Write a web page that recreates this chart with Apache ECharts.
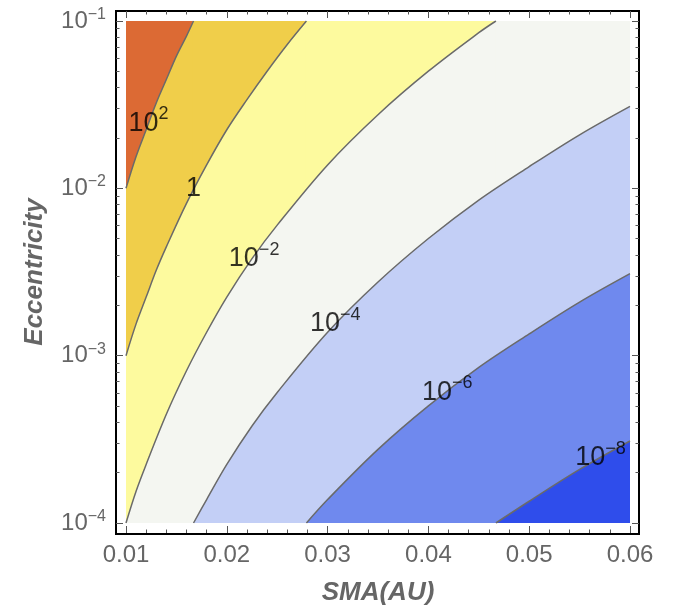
<!DOCTYPE html>
<html><head><meta charset="utf-8">
<script src="https://cdn.jsdelivr.net/npm/echarts@6/dist/echarts.min.js"></script>
<style>html,body{margin:0;padding:0;background:#fff}#c{width:681px;height:611px}</style>
</head><body><div id="c"></div>
<script>
// Axis ranges (x: SMA in AU, y: log10 of eccentricity)
const xRange = [0.01, 0.06];
const yRange = [-4, -1];
// Contour levels (exponent of 10) and contour lines as [SMA, log10(e)]
const levels = [2, 0, -2, -4, -6, -8];
const contour_p2 = [[0.0100,-2.00],[0.0110,-1.81],[0.0120,-1.65],[0.0130,-1.49],[0.0140,-1.35],[0.0150,-1.21],[0.0160,-1.09],[0.0167,-1.00]];
const contour_0 = [[0.0100,-3.00],[0.0110,-2.81],[0.0120,-2.65],[0.0130,-2.49],[0.0140,-2.35],[0.0160,-2.09],[0.0180,-1.86],[0.0200,-1.65],[0.0220,-1.47],[0.0240,-1.30],[0.0260,-1.14],[0.0279,-1.00]];
const contour_m2 = [[0.0100,-4.00],[0.0110,-3.81],[0.0120,-3.65],[0.0140,-3.35],[0.0160,-3.09],[0.0180,-2.86],[0.0200,-2.65],[0.0225,-2.42],[0.0250,-2.22],[0.0300,-1.86],[0.0350,-1.56],[0.0400,-1.30],[0.0450,-1.07],[0.0467,-1.00]];
const contour_m4 = [[0.0167,-4.00],[0.0180,-3.86],[0.0200,-3.65],[0.0225,-3.42],[0.0250,-3.22],[0.0300,-2.86],[0.0350,-2.56],[0.0400,-2.30],[0.0450,-2.07],[0.0500,-1.87],[0.0550,-1.68],[0.0600,-1.51]];
const contour_m6 = [[0.0279,-4.00],[0.0300,-3.86],[0.0350,-3.56],[0.0400,-3.30],[0.0450,-3.07],[0.0500,-2.87],[0.0550,-2.68],[0.0600,-2.51]];
const contour_m8 = [[0.0467,-4.00],[0.0500,-3.87],[0.0550,-3.68],[0.0600,-3.51]];
const contours = [contour_p2, contour_0, contour_m2, contour_m4, contour_m6, contour_m8];
// Contour label anchor points [SMA, log10(e)]
const labelPos = [[0.01223,-1.61],[0.0167,-2.00],[0.02271,-2.42],[0.03076,-2.81],[0.04188,-3.22],[0.05707,-3.61]];
// Band colours: above highest contour, then below each contour
const topBandColor = '#DC6A34';
const bandColors = ['#F0CE4A', '#FDFA9E', '#F4F6F1', '#C3CFF6', '#6F89EE', '#2F4DEB'];

const FONT = "'Liberation Sans', Arial, sans-serif";
const GRAY = '#666666';
const TICK = '#555555';
const SMOOTH = 0.35;

// log minor tick positions
const yMinor = [];
for (let n = -4; n < -1; n++) for (let k = 2; k <= 9; k++) yMinor.push(n + Math.log10(k));

function expLabel(v) {
  const n = Math.round(v);
  return '{b|10}{s|' + (n < 0 ? '\u2212' : '') + Math.abs(n) + '}';
}

const series = [];
contours.forEach((c, i) => {
  const z = 1 + i * 0.01;
  // region below the contour line
  series.push({
    type: 'line', xAxisIndex: 0, yAxisIndex: 0, data: c, showSymbol: false,
    smooth: SMOOTH, lineStyle: {width: 0, opacity: 0},
    areaStyle: {color: bandColors[i], opacity: 1, origin: 'start'}, z: z, silent: true
  });
  // columns right of where the contour leaves through the top edge
  const last = c[c.length - 1];
  if (last[0] < xRange[1]) {
    series.push({
      type: 'line', xAxisIndex: 0, yAxisIndex: 0,
      data: [[last[0] - 0.00008, yRange[1]], [xRange[1], yRange[1]]], showSymbol: false,
      lineStyle: {width: 0, opacity: 0},
      areaStyle: {color: bandColors[i], opacity: 1, origin: 'start'}, z: z, silent: true
    });
  }
});
contours.forEach((c) => {
  series.push({
    type: 'line', xAxisIndex: 0, yAxisIndex: 0, data: c, showSymbol: false,
    smooth: SMOOTH, lineStyle: {width: 1.5, color: '#6a6a6a'}, z: 3, silent: true
  });
});
series.push({
  type: 'scatter', xAxisIndex: 0, yAxisIndex: 0, data: labelPos, symbolSize: 0, z: 5,
  label: {
    show: true, position: 'inside',
    formatter: p => levels[p.dataIndex] === 0 ? '{b|1}' : expLabel(levels[p.dataIndex]),
    rich: {
      b: {fontSize: 27, color: '#000', fontFamily: FONT},
      s: {fontSize: 18, color: '#000', fontFamily: FONT, padding: [0, 0, 18, 0]}
    }
  }
});

const tickStyle = {show: true, inside: true, length: 7, lineStyle: {color: TICK, width: 1}};
const minorStyle = {show: true, splitNumber: 5, length: 3.5, lineStyle: {color: TICK, width: 1}};

const option = {
  animation: false,
  backgroundColor: '#fff',
  grid: [
    {left: 126, top: 21, width: 504, height: 503, show: true, backgroundColor: topBandColor, borderWidth: 0},
    {left: 116, top: 11, width: 523, height: 523, show: true, backgroundColor: 'transparent', borderColor: '#000', borderWidth: 2}
  ],
  xAxis: [
    {gridIndex: 0, type: 'value', min: xRange[0], max: xRange[1], interval: 0.01, position: 'bottom', offset: 10,
     axisLine: {show: false}, axisTick: tickStyle, minorTick: minorStyle, splitLine: {show: false},
     axisLabel: {formatter: v => v.toFixed(2), fontSize: 24, color: GRAY, fontFamily: FONT, margin: 10},
     name: 'SMA(AU)', nameLocation: 'middle', nameGap: 47,
     nameTextStyle: {fontSize: 26, fontWeight: 'bold', fontStyle: 'italic', color: GRAY, fontFamily: FONT}},
    {gridIndex: 0, type: 'value', min: xRange[0], max: xRange[1], interval: 0.01, position: 'top', offset: 10,
     axisLine: {show: false}, axisTick: tickStyle, minorTick: minorStyle, splitLine: {show: false},
     axisLabel: {show: false}},
    {gridIndex: 1, type: 'value', show: false, min: 0, max: 1}
  ],
  yAxis: [
    {gridIndex: 0, type: 'value', min: yRange[0], max: yRange[1], interval: 1, position: 'left', offset: 10,
     axisLine: {show: false}, axisTick: tickStyle, splitLine: {show: false},
     axisLabel: {formatter: expLabel, margin: 10, color: GRAY,
       rich: {b: {fontSize: 24, color: GRAY, fontFamily: FONT}, s: {fontSize: 16, color: GRAY, fontFamily: FONT, padding: [0, 0, 13, 0]}}},
     name: 'Eccentricity', nameLocation: 'middle', nameGap: 68, nameRotate: 90,
     nameTextStyle: {fontSize: 26, fontWeight: 'bold', fontStyle: 'italic', color: GRAY, fontFamily: FONT}},
    {gridIndex: 0, type: 'value', min: yRange[0], max: yRange[1], interval: 1, position: 'right', offset: 9,
     axisLine: {show: false}, axisTick: tickStyle, splitLine: {show: false}, axisLabel: {show: false}},
    {gridIndex: 0, type: 'value', min: yRange[0], max: yRange[1], interval: 1, position: 'left', offset: 10,
     axisLine: {show: false}, splitLine: {show: false}, axisLabel: {show: false},
     axisTick: {show: true, inside: true, length: 3.5, customValues: yMinor, lineStyle: {color: TICK, width: 1}}},
    {gridIndex: 0, type: 'value', min: yRange[0], max: yRange[1], interval: 1, position: 'right', offset: 9,
     axisLine: {show: false}, splitLine: {show: false}, axisLabel: {show: false},
     axisTick: {show: true, inside: true, length: 3.5, customValues: yMinor, lineStyle: {color: TICK, width: 1}}},
    {gridIndex: 1, type: 'value', show: false, min: 0, max: 1}
  ],
  series: series
};
const chart = echarts.init(document.getElementById('c'), null, {renderer: 'canvas'});
chart.setOption(option);
</script>
</body></html>
